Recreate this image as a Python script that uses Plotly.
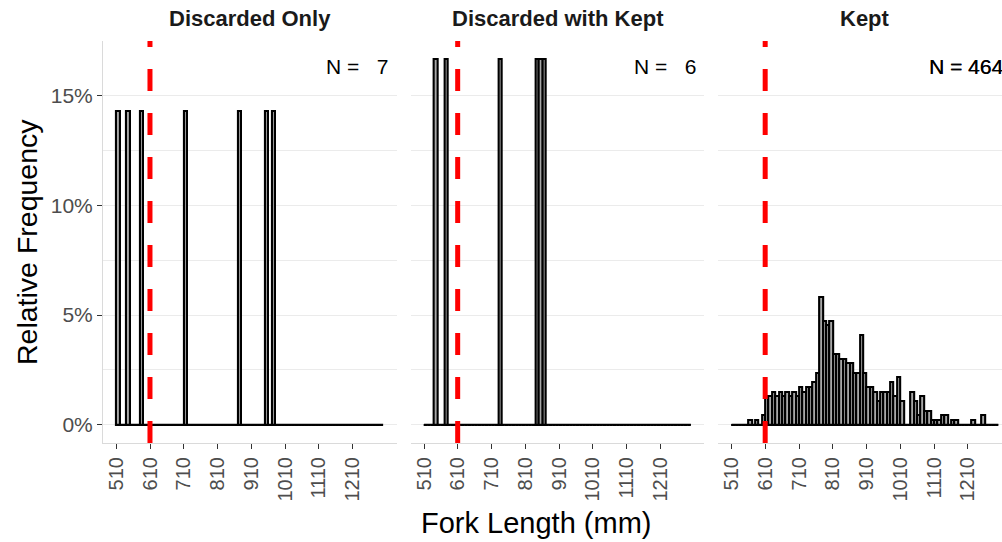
import numpy as np
import plotly.graph_objects as go

# 10 mm histogram bins covering 510-1300 mm
bin_width = 10
bin_edges = np.arange(510, 1300 + bin_width, bin_width)
bin_centers = bin_edges[:-1] + bin_width / 2

# Minimum size limit (24 in) shown as a reference line
size_limit_mm = 609.6

panel_titles = ["Discarded Only", "Discarded with Kept", "Kept"]

# Individual fork lengths (mm) for the two small groups
discarded_only_mm = [514, 544, 584, 714, 874, 954, 974]
discarded_with_kept_mm = [544, 574, 734, 844, 854, 864]

# Fish counts per 10 mm bin (510, 520, ..., 1290) for kept fish
kept_counts = [
    0, 0, 0, 0, 0, 1, 0, 1, 0, 2,
    6, 6, 7, 6, 7, 6, 7, 6, 7, 6,
    8, 7, 8, 8, 9, 11, 27, 22, 21, 22,
    15, 15, 14, 14, 13, 13, 11, 11, 19, 11,
    8, 8, 7, 5, 7, 7, 7, 9, 6, 10,
    5, 0, 0, 7, 5, 2, 6, 3, 3, 1,
    1, 1, 2, 2, 0, 1, 1, 0, 0, 0,
    0, 1, 0, 0, 2, 0, 0, 0, 0,
]

x_tick_vals = list(range(510, 1211, 100))
y_tick_vals = [0, 0.05, 0.10, 0.15]
y_tick_text = ["0%", "5%", "10%", "15%"]
y_minor_vals = [0.025, 0.075, 0.125]

counts_by_panel = [
    np.histogram(discarded_only_mm, bins=bin_edges)[0],
    np.histogram(discarded_with_kept_mm, bins=bin_edges)[0],
    np.array(kept_counts),
]

FONT = "Liberation Sans, Arial, sans-serif"
GRID = "#EBEBEB"

# Plot area geometry (pixels) for the three facets
fig_w, fig_h = 1002, 542
m_l, m_r, m_t, m_b = 103, 0, 41, 99
plot_w = fig_w - m_l - m_r
panel_px = [(103, 396.5), (410.7, 704.2), (718.2, 1002)]
domains = [[(a - m_l) / plot_w, (b - m_l) / plot_w] for a, b in panel_px]
px_per_mm = 293.5 / 869.0
x_lo = 470.5
x_ranges = [[x_lo, x_lo + (b - a) / px_per_mm] for a, b in panel_px]
y_range = [-1 / 120, 0.175]
n_label_mm = 1321     # right end of the "N = ..." labels
n_label_y = 0.1632

fig = go.Figure()
layout = dict(
    width=fig_w,
    height=fig_h,
    margin=dict(l=m_l, r=m_r, t=m_t, b=m_b, pad=0),
    paper_bgcolor="white",
    plot_bgcolor="white",
    showlegend=False,
    barmode="overlay",
    bargap=0,
    font=dict(family=FONT, color="#4D4D4D"),
)

shapes = []
annotations = []
for i, counts in enumerate(counts_by_panel):
    n = int(counts.sum())
    rel = counts / n
    sfx = "" if i == 0 else str(i + 1)
    xa, ya = "x" + sfx, "y" + sfx

    fig.add_trace(go.Bar(
        x=bin_centers, y=rel, width=bin_width,
        marker=dict(color="#A8A8A8", line=dict(color="black", width=2.1)),
        xaxis=xa, yaxis=ya, hoverinfo="skip",
    ))
    # zero-height bins still show their outline along the baseline
    fig.add_trace(go.Scatter(
        x=[bin_edges[0], bin_edges[-1]], y=[0, 0], mode="lines",
        line=dict(color="black", width=2.1),
        xaxis=xa, yaxis=ya, hoverinfo="skip",
    ))

    layout["xaxis" + sfx] = dict(
        domain=domains[i], range=x_ranges[i], anchor=ya,
        tickvals=x_tick_vals, ticktext=[str(v) for v in x_tick_vals],
        tickangle=-90, ticks="outside", ticklen=5, tickwidth=1.1,
        tickcolor="#333333", showline=True, linecolor="#DADADA",
        linewidth=1.1, showgrid=False, zeroline=False,
        tickfont=dict(size=20, color="#4D4D4D", family=FONT),
    )
    y_ax = dict(
        domain=[0, 1], range=y_range, anchor=xa,
        tickvals=y_tick_vals, showgrid=True, gridcolor=GRID, gridwidth=1.1,
        zeroline=False,
        minor=dict(tickvals=y_minor_vals, showgrid=True, gridcolor=GRID,
                   gridwidth=0.6, ticks=""),
    )
    if i == 0:
        y_ax.update(
            ticktext=y_tick_text, ticks="outside", ticklen=5, tickwidth=1.1,
            tickcolor="#333333", showline=True, linecolor="#DADADA",
            linewidth=1.1, tickfont=dict(size=21, color="#4D4D4D", family=FONT),
        )
    else:
        y_ax.update(matches="y", showticklabels=False, ticks="")
    layout["yaxis" + sfx] = y_ax

    shapes.append(dict(
        type="line", xref=xa, yref=ya + " domain",
        x0=size_limit_mm, x1=size_limit_mm, y0=0, y1=1,
        line=dict(color="#FF0000", width=5, dash="22px,22px"), layer="above",
    ))

    # sample-size label, anchored at the same length in every panel
    label_px = panel_px[i][0] + (n_label_mm - x_lo) * px_per_mm
    label_py = m_t + (y_range[1] - n_label_y) / (y_range[1] - y_range[0]) * 402
    pad = "\u00a0" * (3 - len(str(n)))
    annotations.append(dict(
        text="N =\u00a0" + pad + str(n), xref="paper", yref="paper",
        x=(label_px - m_l) / plot_w, y=1 - (label_py - m_t) / 402,
        xanchor="right", yanchor="middle", showarrow=False,
        font=dict(size=21, color="black", family=FONT,
                  shadow="0.25px 0 0 black" if n > 99 else "none"),
    ))
    annotations.append(dict(
        text="<b>" + panel_titles[i] + "</b>", xref="paper", yref="paper",
        x=((panel_px[i][0] + (panel_px[i][0] + 294)) / 2 - m_l) / plot_w,
        y=1 + (m_t - 18) / 402, xanchor="center", yanchor="middle",
        showarrow=False, font=dict(size=22, color="#1A1A1A", family=FONT),
    ))

annotations.append(dict(
    text="Fork Length (mm)", xref="paper", yref="paper",
    x=(536 - m_l) / plot_w, y=-(523 - 443) / 402,
    xanchor="center", yanchor="middle", showarrow=False,
    font=dict(size=29, color="black", family=FONT),
))
annotations.append(dict(
    text="Relative Frequency", xref="paper", yref="paper",
    x=-(m_l - 27) / plot_w, y=0.5, textangle=-90,
    xanchor="center", yanchor="middle", showarrow=False,
    font=dict(size=28.5, color="black", family=FONT),
))

layout["shapes"] = shapes
layout["annotations"] = annotations
fig.update_layout(**layout)
fig.write_html("out.html")
